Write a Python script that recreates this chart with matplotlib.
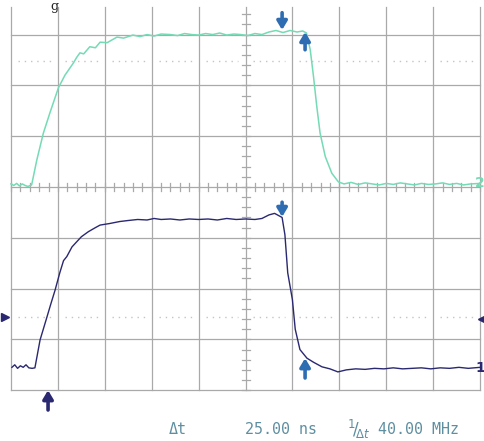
import numpy as np
import matplotlib
matplotlib.use("Agg")
import matplotlib.pyplot as plt

# channel 2 (green) - screen divisions
ch2_x = [0.00, 0.06, 0.12, 0.18, 0.24, 0.30, 0.36, 0.44, 0.55, 0.69,
         0.83, 1.01, 1.15, 1.33, 1.40, 1.47, 1.55, 1.68, 1.80, 1.90,
         2.05, 2.26, 2.40, 2.60, 2.75, 2.90, 3.05, 3.20, 3.40, 3.55,
         3.70, 3.85, 4.00, 4.15, 4.30, 4.45, 4.60, 4.75, 4.90, 5.05,
         5.20, 5.35, 5.50, 5.65, 5.80, 5.95, 6.10, 6.22, 6.30, 6.38,
         6.45, 6.52, 6.59, 6.70, 6.84, 6.98, 7.10, 7.25, 7.40, 7.55,
         7.70, 7.85, 8.00, 8.15, 8.30, 8.45, 8.60, 8.75, 8.90, 9.05,
         9.20, 9.35, 9.50, 9.65, 9.80, 10.00]
ch2_y = [0.06, 0.03, 0.07, 0.02, 0.06, 0.03, 0.01, 0.04, 0.53, 1.06,
         1.46, 1.95, 2.20, 2.44, 2.55, 2.64, 2.62, 2.76, 2.74, 2.85,
         2.84, 2.95, 2.93, 2.99, 2.96, 3.00, 2.97, 3.01, 3.00, 2.98,
         3.02, 3.00, 2.99, 3.02, 3.00, 3.03, 2.99, 3.01, 3.00, 2.98,
         3.02, 3.00, 3.05, 3.08, 3.04, 3.08, 3.05, 3.07, 3.03, 2.70,
         2.17, 1.58, 1.06, 0.60, 0.27, 0.10, 0.06, 0.09, 0.05, 0.08,
         0.06, 0.04, 0.07, 0.05, 0.08, 0.06, 0.04, 0.07, 0.05, 0.06,
         0.08, 0.05, 0.07, 0.04, 0.06, 0.07]

# channel 1 (navy)
ch1_x = [0.02, 0.08, 0.14, 0.20, 0.26, 0.32, 0.38, 0.45, 0.51, 0.62,
         0.76, 0.85, 0.94, 1.04, 1.12, 1.19, 1.30, 1.40, 1.50, 1.65,
         1.80, 1.90, 2.10, 2.32, 2.50, 2.70, 2.90, 3.05, 3.20, 3.40,
         3.60, 3.80, 4.00, 4.20, 4.40, 4.60, 4.80, 5.00, 5.20, 5.35,
         5.50, 5.62, 5.72, 5.78, 5.84, 5.90, 6.00, 6.06, 6.16, 6.31,
         6.45, 6.63, 6.80, 6.97, 7.15, 7.35, 7.55, 7.75, 7.95, 8.15,
         8.35, 8.55, 8.75, 8.95, 9.15, 9.35, 9.55, 9.75, 10.00]
ch1_y = [-3.55, -3.50, -3.57, -3.52, -3.55, -3.50, -3.56, -3.57, -3.56, -3.01,
         -2.58, -2.30, -2.03, -1.69, -1.45, -1.37, -1.18, -1.08, -0.98, -0.88,
         -0.80, -0.75, -0.72, -0.68, -0.66, -0.64, -0.65, -0.62, -0.64, -0.63,
         -0.65, -0.63, -0.64, -0.63, -0.65, -0.62, -0.64, -0.63, -0.64, -0.62,
         -0.55, -0.52, -0.57, -0.60, -0.94, -1.69, -2.22, -2.80, -3.20, -3.37,
         -3.45, -3.54, -3.58, -3.64, -3.60, -3.58, -3.59, -3.57, -3.58, -3.56,
         -3.58, -3.57, -3.56, -3.58, -3.56, -3.57, -3.55, -3.57, -3.55]

# cursor marks (x, tail y, tip y)
cursors_top = [(5.78, 3.43, 3.09), (6.27, 2.70, 3.05)]
cursors_bot = [(5.78, -0.30, -0.59), (6.27, -3.76, -3.37)]
trigger_x = 0.79
ref_levels = [2.48, -2.56]

readout = ["\u0394t", "25.00 ns", "40.00 MHz"]

green = "#74dbb5"
navy = "#2a2870"
arrow_blue = "#2f6db3"
gridc = "#a9a9a9"
textc = "#5e8fa1"

fig = plt.figure(figsize=(4.85, 4.41), dpi=100)
ax = fig.add_axes([0, 0, 1, 1])
ax.set_xlim(-0.2345, 10.106)
ax.set_ylim(-5.0, 3.68)
ax.axis("off")

top = 3.54
# grid
for i in range(11):
    ax.plot([i, i], [-4, top], color=gridc, lw=0.9, zorder=1)
for j in range(-4, 4):
    ax.plot([0, 10], [j, j], color=gridc, lw=0.9, zorder=1)

# minor ticks on center axes
for t in np.arange(0, 10.01, 0.2):
    ax.plot([t, t], [-0.08, 0.08], color=gridc, lw=0.9, zorder=1)
for t in np.arange(-4, top, 0.2):
    ax.plot([4.915, 5.085], [t, t], color=gridc, lw=0.9, zorder=1)

# reference level dotted lines
for lv in ref_levels:
    for i in range(10):
        ax.plot([i + 0.15, i + 0.85], [lv, lv], color="#c4c4c4", lw=1.0,
                linestyle=(0, (1, 3.5)), zorder=1)

ax.plot(ch2_x, ch2_y, color=green, lw=1.1, zorder=3)
ax.plot(ch1_x, ch1_y, color=navy, lw=1.0, zorder=3)

def arrow(x, y0, y1, col):
    ax.annotate("", xy=(x, y1), xytext=(x, y0),
                arrowprops=dict(arrowstyle="-|>,head_width=0.3,head_length=0.5",
                                lw=2.6, color=col, shrinkA=0, shrinkB=0),
                zorder=4)

for x, y0, y1 in cursors_top + cursors_bot:
    arrow(x, y0, y1, arrow_blue)
arrow(trigger_x, -4.39, -4.0, navy)

# side markers
ax.plot([-0.13], [ref_levels[1]], marker=">", color=navy, ms=6, zorder=4)
ax.plot([10.02, 10.1], [-2.6, -2.6], color=navy, lw=1.2, zorder=4)
ax.plot([10.02], [-2.6], marker="<", color=navy, ms=4, zorder=4)
ax.text(10.1, 0.08, "2", color=green, fontsize=10, fontweight="bold",
        va="center", ha="right", zorder=5)
ax.text(10.1, -3.56, "1", color=navy, fontsize=10, fontweight="bold",
        va="center", ha="right", zorder=5)

# label fragment at top edge
ax.text(0.93, 3.68, "g", fontsize=9, family="DejaVu Serif", color="#222222",
        ha="center", va="top", zorder=5)

# readout
y_t = -4.78
ax.text(3.37, y_t, readout[0], family="DejaVu Sans Mono", fontsize=10.8,
        color=textc, ha="left", va="center")
ax.text(4.99, y_t, readout[1], family="DejaVu Sans Mono", fontsize=10.8,
        color=textc, ha="left", va="center")
ax.text(7.17, y_t, r"$^{1}\!/\!_{\Delta t}$", fontsize=12,
        color=textc, ha="left", va="center")
ax.text(7.83, y_t, readout[2], family="DejaVu Sans Mono", fontsize=10.8,
        color=textc, ha="left", va="center")

fig.savefig("out.png", dpi=100, facecolor="white")
